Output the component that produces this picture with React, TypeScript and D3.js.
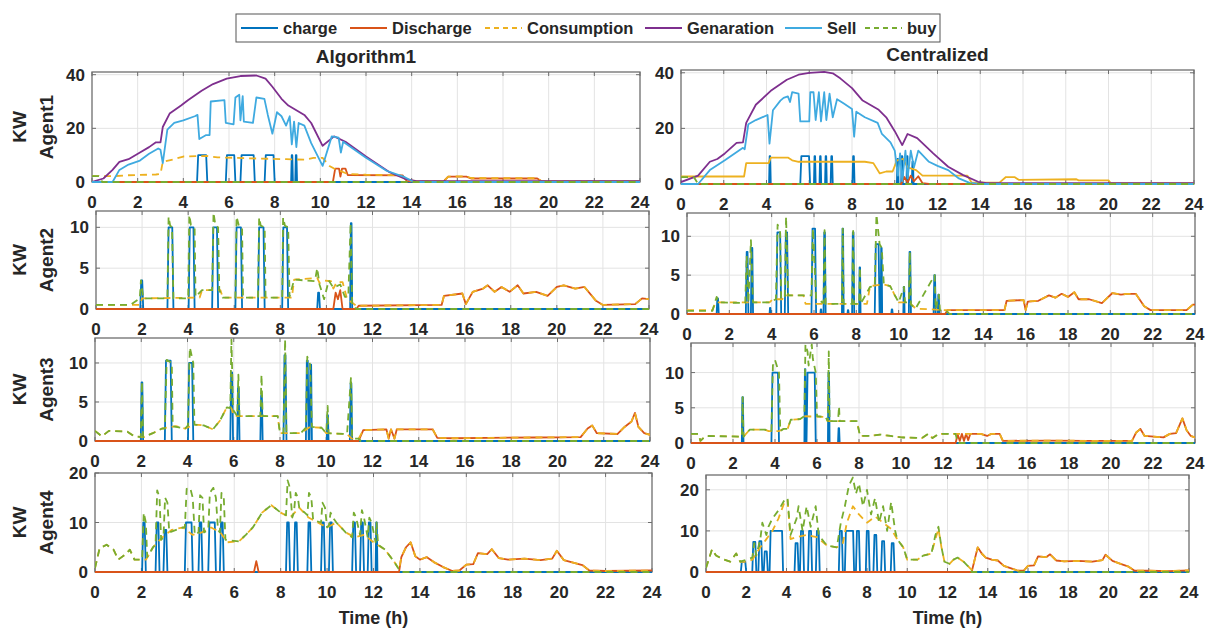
import React from "react";
import * as d3 from "d3";

type Pt = [number, number];
type Pulse = [number, number, number]; // [start h, end h, height kW]

// ---------- labels / ticks ----------
const HOUR_TICKS = [0, 2, 4, 6, 8, 10, 12, 14, 16, 18, 20, 22, 24];
const LEGEND_LABELS = ["charge", "Discharge", "Consumption", "Genaration", "Sell", "buy"];
const COLUMN_TITLES = ["Algorithm1", "Centralized"];
const AGENT_LABELS = ["Agent1", "Agent2", "Agent3", "Agent4"];
const Y_LABEL = "KW";
const X_LABEL = "Time (h)";
const TICKS_40 = [0, 20, 40];
const TICKS_10 = [0, 5, 10];
const TICKS_20 = [0, 10, 20];

// ---------- Algorithm1 / Agent1 ----------
const l1Generation: Pt[] = [[0,0],[0.5,1.3],[0.9,4.5],[1.2,7.5],[1.6,8.5],[2.1,11],[2.5,13],[2.8,14.8],[3.0,14.8],[3.1,20.5],[3.4,25.5],[3.9,28.5],[4.2,30.5],[4.8,34],[5.3,36.5],[5.9,38.5],[6.5,39.5],[7.2,39.7],[7.6,38.5],[7.9,35.5],[8.3,31],[8.6,28.5],[9.3,25],[9.6,22],[10.1,13.5],[10.6,17],[11.1,15],[12.0,9.5],[13.0,3.8],[13.7,1.2],[14.2,0.3],[24,0.3]];
const l1Sell: Pt[] = [[0,0],[0.9,0],[1.2,4.5],[1.6,6.5],[2.1,8],[2.5,10.5],[2.9,12.5],[3.0,12],[3.1,7],[3.3,19.5],[3.6,22],[4.0,23],[4.5,24.5],[4.62,25],[4.7,16],[5.0,17.5],[5.15,17.5],[5.2,30],[5.8,30.5],[5.86,22],[6.2,21.5],[6.28,31.5],[6.45,32.5],[6.5,23],[6.6,32],[6.65,22.5],[7.05,22],[7.2,31.5],[7.55,31],[7.7,25],[7.9,18],[8.1,26],[8.3,24.5],[8.5,21],[8.66,24.5],[8.75,14],[8.85,22.5],[8.95,13],[9.05,22],[9.3,21],[9.6,14.5],[10.1,6],[10.5,17],[10.8,16.5],[10.9,11],[11.0,15],[11.5,12],[12,9],[12.9,4.2],[13.7,1.8],[14.1,0],[24,0]];
const l1Charge: Pulse[] = [[4.6,5.05,10],[5.86,6.28,10],[6.5,7.13,10],[7.56,8.0,10],[8.72,8.8,10],[8.9,8.98,10]];
const l1Discharge: Pt[] = [[0,0],[10.55,0],[10.65,5],[10.82,5],[10.88,2],[10.95,5],[11.1,5],[11.2,2.6],[13.6,2.5],[13.8,0.2],[15.4,0.2],[15.6,2],[16.4,2],[16.6,1.3],[19.5,1.3],[19.7,0.2],[24,0.2]];
const l1Consumption: Pt[] = [[0,2.2],[1.0,2.2],[1.5,2.5],[2.8,2.8],[3.0,3],[3.1,7.5],[3.6,8.5],[4.0,9.5],[5.0,9.7],[5.5,9.2],[7.0,8.8],[8.5,8.5],[9.3,8.3],[9.7,9],[10.1,9],[10.4,6],[10.6,5],[11.2,3],[12,2.7],[13.5,2.5],[13.8,0.5],[15.4,0.3],[15.6,2],[16.4,2.1],[16.6,1.5],[19.5,1.4],[19.7,0.3],[24,0.3]];
const l1Buy: Pt[] = [[0,2.2],[0.3,2.2],[0.45,0],[24,0]];

// ---------- Centralized / Agent1 ----------
const r1Generation: Pt[] = [[0,0.7],[0.8,3],[1.35,8],[1.7,9],[2.05,11],[2.6,14.8],[2.9,15],[3.05,22],[3.5,28.5],[4.2,33.5],[4.95,37.5],[5.5,39.3],[6.0,40],[6.7,40.3],[7.1,39.8],[7.45,38],[8.0,34.5],[8.5,30],[9.25,26.7],[9.6,24],[10.0,19],[10.35,14],[10.6,18],[11.05,16.5],[11.8,11],[12.5,6.2],[13.2,3.2],[13.9,0.8],[14.3,0.3],[24,0.3]];
const r1Sell: Pt[] = [[0,0],[0.8,0],[1.35,5],[2.05,8.5],[2.9,13],[2.98,12.5],[3.15,21.5],[3.5,23],[4.05,24.8],[4.14,14.5],[4.3,26.5],[4.65,30],[4.8,31],[5.0,31.5],[5.1,29.5],[5.2,33],[5.5,32.5],[5.58,22.5],[6.0,22.5],[6.05,33],[6.2,33],[6.3,23],[6.45,33],[6.55,22.5],[6.7,33],[6.8,23],[6.95,32.5],[7.1,24],[7.3,30.5],[7.6,29],[8.0,27],[8.1,17],[8.2,26],[8.6,24],[9.2,22],[9.4,18],[9.8,15],[10.0,12],[10.15,3],[10.25,11],[10.35,1],[10.5,12],[10.6,2],[10.75,12],[10.9,6],[11.1,12],[11.6,8],[12,6.5],[12.5,5],[13,2],[13.5,0.4],[14,0],[24,0]];
const r1Charge: Pulse[] = [[4.12,4.2,10],[5.58,6.04,10],[6.22,6.3,10],[6.48,6.56,10],[6.74,6.82,10],[7.0,7.1,10],[8.02,8.12,10],[10.1,10.18,9],[10.3,10.38,10],[10.55,10.62,10],[10.8,10.88,8]];
const r1Discharge: Pt[] = [[0,0],[10.3,0],[10.45,2.5],[10.6,0.5],[10.75,3],[10.9,1],[11.1,2.8],[11.3,0.3],[11.6,0],[24,0]];
const r1Consumption: Pt[] = [[0,2.7],[2.95,2.7],[3.05,7.5],[4.1,7.5],[4.2,9.5],[5.0,9.5],[5.2,8.5],[5.5,8],[8.6,8],[9.0,7.5],[9.3,3.8],[9.6,4.5],[9.9,4.5],[10.1,8.5],[10.4,9],[10.6,6],[11.0,5],[11.3,3],[13.4,3],[13.6,0.5],[14.9,0.5],[15.2,2.5],[15.6,2.5],[15.8,1.5],[18.5,1.7],[18.6,1.3],[20.0,1.3],[20.1,0.3],[24,0.3]];
const r1Buy: Pt[] = [[0,2.5],[0.6,2.5],[0.8,0],[24,0]];

// ---------- Algorithm1 / Agent2 ----------
const l2Charge: Pulse[] = [[1.92,2.05,3.5],[3.1,3.36,10],[4.02,4.28,10],[5.04,5.3,10],[6.05,6.34,10],[7.03,7.32,10],[8.08,8.34,10],[9.6,9.72,2],[11.03,11.12,10.5]];
const l2ConsumptionHead: Pt[] = [[0,0.5],[1.9,0.5],[2.0,1.3],[4.5,1.4],[4.6,2.3],[5.4,2.3],[5.5,1.4],[8.5,1.4],[8.6,3.6],[9.6,3.8],[9.7,3.2],[9.9,3.5],[10.2,3.4],[10.3,2.5],[10.45,3.3],[10.7,3.3],[10.9,1.2],[11.3,0.4]];
const l2Tail: Pt[] = [[11.4,0.4],[15.0,0.5],[15.1,1.6],[15.9,1.9],[16.05,0.6],[16.35,2.1],[16.8,2.5],[17.0,2.9],[17.3,2.1],[17.6,2.7],[17.95,2.1],[18.3,2.9],[18.55,1.9],[19.1,2.1],[19.6,1.6],[20.0,2.7],[20.3,2.9],[20.8,2.5],[21.2,2.7],[21.7,1.0],[22.0,0.5],[23.4,0.6],[23.7,1.3],[24,1.2]];
const l2DischargeHead: Pt[] = [[0,0],[10.3,0],[10.4,2],[10.5,1.2],[10.6,2.3],[10.7,0],[11.3,0]];
const l2Buy: Pt[] = [[0,0.5],[1.5,0.5],[1.9,1.3],[1.95,3.5],[2.05,1.3],[3.1,1.3],[3.15,11.3],[3.22,10.2],[3.3,10],[3.36,1.3],[4.0,1.3],[4.05,11.5],[4.12,10.3],[4.28,10],[4.32,1.5],[4.6,2.3],[5.04,2.3],[5.1,11.8],[5.18,10.3],[5.3,10],[5.35,2.3],[5.5,1.4],[6.05,1.4],[6.1,11.3],[6.2,10.2],[6.34,10],[6.38,1.4],[7.03,1.4],[7.08,11.2],[7.15,10.2],[7.32,10],[7.36,1.4],[8.08,1.4],[8.12,11.2],[8.2,10.2],[8.34,10],[8.4,1.5],[8.6,3.6],[9.5,3.4],[9.6,5],[9.7,3],[9.9,1.2],[10.1,3.5],[10.3,2.6],[10.6,3],[10.8,1.5],[10.95,1.5],[11.05,10.5],[11.12,0.4],[11.3,0],[24,0]];

// ---------- Centralized / Agent2 ----------
const r2Charge: Pulse[] = [[1.4,1.5,2],[2.78,2.9,8],[3.02,3.12,8.5],[3.9,3.96,0.8],[4.22,4.45,10.5],[4.62,4.78,10.5],[5.88,6.1,11],[6.3,6.36,0.6],[6.45,6.55,10.5],[7.32,7.4,11],[7.58,7.64,0.5],[7.8,7.9,10.5],[8.13,8.2,6],[8.87,9.1,9],[9.15,9.22,8.5],[9.65,9.72,0.6],[10.22,10.28,3.5],[10.48,10.58,8],[11.65,11.75,5],[11.85,11.92,2.5]];
const r2ConsumptionHead: Pt[] = [[0,0.5],[1.2,0.5],[1.35,1.5],[3.9,1.5],[4.05,1.9],[4.5,1.9],[4.6,2.4],[5.5,2.4],[5.6,1.3],[8.5,1.3],[8.65,3.6],[9.3,3.8],[9.6,3.6],[9.8,2.5],[10.0,1.5],[10.5,1.5],[10.8,0.7],[12.2,0.5]];
const r2Tail: Pt[] = [[12.3,0.5],[15.0,0.5],[15.1,1.7],[15.9,1.8],[16.0,0.5],[16.1,1.6],[16.6,1.7],[17.1,2.4],[17.4,2.1],[17.7,2.6],[18.0,2.2],[18.3,2.8],[18.5,1.9],[19.0,1.9],[19.6,1.4],[20.1,2.7],[20.5,2.5],[20.8,2.6],[21.2,2.6],[21.6,1.0],[21.9,0.5],[23.6,0.5],[23.9,1.2],[24,1.2]];
const r2DischargeHead: Pt[] = [[0,0],[12.2,0]];
const r2Buy: Pt[] = [[0,0.4],[1.2,0.4],[1.4,2.2],[1.5,1.5],[2.75,1.4],[2.82,7.5],[2.9,1.5],[3.02,9.5],[3.12,1.5],[3.9,1.5],[4.2,1.9],[4.28,11.5],[4.4,10.5],[4.45,1.9],[4.62,2.3],[4.68,12.5],[4.78,2.4],[5.88,2.4],[5.95,11],[6.1,2.0],[6.45,1.4],[6.5,10.8],[6.55,1.3],[7.32,1.3],[7.36,11],[7.4,1.3],[7.8,1.3],[7.85,10.7],[7.9,1.3],[8.13,1.3],[8.17,6],[8.2,1.3],[8.65,3.5],[8.87,3.6],[8.95,12.8],[9.1,9],[9.2,8.5],[9.3,3.8],[9.6,3.6],[9.8,2.5],[10.0,1.5],[10.25,3.5],[10.3,1.5],[10.48,1.5],[10.53,8],[10.58,1.2],[10.8,0.7],[11.7,5],[11.75,0.6],[11.9,2.5],[11.95,0.5],[12.3,0.3],[12.4,0],[24,0]];

// ---------- Algorithm1 / Agent3 ----------
const l3Charge: Pulse[] = [[1.98,2.08,7.5],[3.02,3.32,10.3],[4.02,4.25,10],[5.85,5.97,8.8],[6.15,6.25,6.8],[7.15,7.25,5.8],[8.15,8.28,11],[9.12,9.24,10.3],[9.28,9.38,9.8],[10.02,10.1,3.3],[11.02,11.12,7.4]];
const l3ConsumptionHead: Pt[] = [[0,1.3],[0.3,0.6],[0.6,1.3],[1.4,1.2],[1.7,0.6],[2.1,0.5],[2.5,1],[2.9,1.6],[3.5,1.9],[3.9,1.6],[4.3,2.1],[4.7,2.0],[5.1,1.5],[5.4,2.6],[5.7,4.3],[5.9,4.2],[6.0,3.2],[7.9,3.2],[8.0,1.0],[8.9,1.0],[9.3,1.8],[9.8,1.7],[10.0,1.0],[10.9,0.9],[11.1,0.3],[11.4,0.3]];
const l3Tail: Pt[] = [[11.6,1.4],[12.6,1.5],[12.7,0.3],[12.8,1.5],[12.95,0.3],[13.05,1.5],[14.6,1.5],[14.8,0.4],[15.5,0.35],[17,0.4],[19,0.45],[21.0,0.5],[21.3,1.6],[21.5,2.0],[21.7,1.0],[22.6,0.9],[22.9,1.8],[23.2,2.5],[23.35,3.6],[23.5,1.8],[23.75,1.0],[24,0.8]];
const l3DischargeHead: Pt[] = [[0,0],[11.4,0]];
const l3Buy: Pt[] = [[0,1.3],[0.3,0.6],[0.6,1.3],[1.4,1.2],[1.7,0.6],[1.98,0.5],[2.03,7.6],[2.08,0.5],[2.5,1],[2.9,1.6],[3.02,1.6],[3.1,10.4],[3.32,10],[3.36,1.9],[3.9,1.6],[4.02,2],[4.1,12],[4.25,10],[4.3,2.1],[4.7,2.0],[5.1,1.5],[5.4,2.6],[5.7,4.3],[5.85,4.2],[5.9,13],[5.97,4],[6.15,3.2],[6.2,8.5],[6.25,3.2],[7.15,3.2],[7.2,8.5],[7.25,3.2],[7.9,3.2],[8.0,1.0],[8.15,1],[8.22,13],[8.28,1],[8.9,1.0],[9.12,1.7],[9.18,10.8],[9.3,9.8],[9.38,1.8],[9.8,1.7],[10.0,1.0],[10.06,4.5],[10.1,1.0],[10.9,0.9],[11.07,8.2],[11.12,0.3],[11.4,0.3],[11.5,0],[24,0]];

// ---------- Centralized / Agent3 ----------
const r3Charge: Pulse[] = [[2.42,2.5,6.5],[3.83,4.19,10],[5.4,5.47,10.5],[5.5,5.94,10],[6.52,6.6,10],[7.0,7.08,2.1]];
const r3ConsumptionHead: Pt[] = [[0,1.3],[0.35,1.3],[0.45,0.3],[0.7,1.0],[2.5,0.9],[2.8,1.9],[3.5,1.9],[3.7,1.7],[4.2,1.7],[4.4,2.0],[4.6,2.0],[4.75,3.3],[5.2,3.4],[5.35,3.8],[6.4,3.7],[6.5,3.1],[7.9,3.1],[8.05,1.0],[8.5,1.0],[9.0,1.2],[9.5,1.0],[10.0,0.8],[11.0,0.7],[11.3,1.3],[11.5,0.7],[11.8,1.3],[13.5,1.3]];
const r3DischargeHead: Pt[] = [[0,0],[12.6,0],[12.7,1.2],[12.8,0.3],[12.9,1.3],[13.0,0.3],[13.1,1.3],[13.2,0.4],[13.3,1.3],[13.5,1.3]];
const r3Tail: Pt[] = [[13.8,1.3],[14.1,1.0],[14.3,1.3],[14.7,1.3],[14.85,0.3],[17,0.35],[19,0.3],[21.0,0.3],[21.2,1.5],[21.4,2.0],[21.6,1.0],[22.5,0.8],[22.8,1.3],[23.1,1.4],[23.4,3.5],[23.6,1.8],[23.8,1.0],[24,0.8]];
const r3Buy: Pt[] = [[0,1.3],[0.35,1.3],[0.45,0.3],[0.7,1.0],[2.42,0.9],[2.46,6.5],[2.5,0.9],[2.8,1.9],[3.5,1.9],[3.83,1.7],[3.9,11],[4.0,11.8],[4.19,10],[4.25,1.7],[4.4,2.0],[4.6,2.0],[4.75,3.3],[5.2,3.4],[5.4,3.8],[5.45,14],[5.55,13],[5.6,11],[5.75,14],[5.8,12],[5.94,10],[6.0,3.8],[6.4,3.7],[6.52,3.1],[6.56,13],[6.6,3.1],[7.0,3.1],[7.05,5.2],[7.08,3.1],[7.9,3.1],[8.05,1.0],[8.5,1.0],[9.0,1.2],[9.5,1.0],[10.0,0.8],[11.0,0.7],[11.3,1.3],[11.5,0.7],[11.8,1.3],[12.6,1.3],[12.7,0],[24,0]];

// ---------- Algorithm1 / Agent4 ----------
const l4Charge: Pulse[] = [[2.03,2.19,10],[2.61,2.78,10],[2.95,3.12,8.5],[3.87,4.21,10],[4.46,4.63,10],[4.88,5.21,10],[5.38,5.55,10],[8.23,8.4,10],[8.57,8.74,10],[9.15,9.32,10],[9.74,9.91,10],[10.08,10.25,10],[11.08,11.25,10],[11.42,11.59,10],[11.75,11.92,10],[12.09,12.17,10]];
const l4ConsumptionHead: Pt[] = [[0,0.8],[0.2,4.8],[0.5,5.5],[0.8,4.5],[1.0,2.5],[1.3,3.5],[1.5,4.5],[1.7,2.5],[2.2,2.5],[2.5,5],[2.9,7],[3.3,8.5],[3.8,9],[4.2,7.5],[4.6,8],[5.0,9],[5.4,8],[5.7,6],[6.2,6.2],[6.5,7.5],[6.8,9],[7.2,12],[7.6,13.5],[8.0,12],[8.4,11],[8.8,13],[9.2,11],[9.6,10],[10.0,9],[10.4,10],[10.8,8],[11.2,7],[11.6,7.5],[12.0,6],[12.5,4.5],[12.9,2],[13.1,0.6]];
const l4Tail: Pt[] = [[13.2,3],[13.4,5],[13.6,6],[13.8,3.2],[14.0,2.5],[14.3,3],[14.6,2],[15.0,1],[15.4,0.2],[15.7,0.3],[16.0,1.5],[16.3,1.6],[16.5,3.8],[16.9,3.6],[17.1,4.6],[17.4,2.8],[17.8,2.5],[18.5,2.7],[19.2,2.4],[19.7,2.7],[19.9,4.3],[20.2,2.4],[20.6,1.9],[21.0,1.4],[21.3,0.3],[22,0.2],[24,0.3]];
const l4DischargeHead: Pt[] = [[0,0],[6.85,0],[6.95,2.2],[7.05,0],[13.1,0]];
const l4Buy: Pt[] = [[0,0.8],[0.2,4.8],[0.5,5.5],[0.8,4.5],[1.0,2.5],[1.3,3.5],[1.5,4.5],[1.7,2.5],[2.03,2.5],[2.1,12],[2.19,10],[2.25,3],[2.5,5],[2.61,5.5],[2.68,16.5],[2.78,15],[2.85,6.5],[2.95,7],[3.02,15],[3.12,14],[3.2,8],[3.8,9],[3.87,9],[3.95,16.8],[4.1,17],[4.21,15],[4.3,7.5],[4.46,8],[4.53,15.5],[4.63,15],[4.7,8],[4.88,8.5],[4.95,16],[5.1,17],[5.21,15],[5.3,8.5],[5.38,8],[5.45,16],[5.55,15],[5.62,6.5],[6.2,6.2],[6.5,7.5],[6.8,9],[7.2,12],[7.6,13.5],[8.0,12],[8.23,11.5],[8.3,18.5],[8.4,17],[8.5,11],[8.57,12],[8.65,16],[8.74,15],[8.8,13],[9.15,11.5],[9.22,16],[9.32,15],[9.4,10.5],[9.74,10],[9.8,14],[9.91,13],[10.0,9],[10.08,9.5],[10.15,12],[10.25,11],[10.4,10],[10.8,8],[11.08,7],[11.15,12],[11.25,11],[11.42,7.5],[11.5,12.5],[11.59,11],[11.75,7],[11.82,11],[11.92,10],[12.09,6],[12.13,10],[12.2,5.5],[12.5,4.5],[12.9,2],[13.1,0.5],[13.2,0],[24,0]];

// ---------- Centralized / Agent4 ----------
const r4Charge: Pulse[] = [[1.73,2.0,2.5],[2.3,2.5,7.3],[2.6,2.8,7.5],[2.87,3.07,5],[3.16,3.83,10],[4.4,4.6,7],[4.67,4.87,10],[5.07,5.27,10],[5.46,5.65,10],[6.6,6.8,10],[6.9,7.36,10],[7.45,7.65,10],[7.94,8.13,10],[8.32,8.51,9],[8.7,8.9,7.5],[9.18,9.37,7]];
const r4ConsumptionHead: Pt[] = [[0,1],[0.3,5.5],[0.5,4],[0.9,3],[1.2,2.5],[1.5,4.5],[1.7,2.5],[2.0,2.5],[2.3,3],[2.7,6],[3.0,8],[3.3,10],[3.6,13],[3.9,17],[4.05,17.5],[4.2,8],[4.5,8.5],[5.0,9],[5.5,8.5],[6.0,6.5],[6.5,6],[6.8,7],[7.0,12],[7.3,16],[7.6,14],[8.0,12],[8.4,13.5],[8.8,12],[9.2,10.5],[9.5,8],[9.8,6],[10.0,3],[10.5,3],[10.8,4],[11.2,4.5],[11.4,8],[11.55,10.5],[11.7,6],[11.85,2.5],[12.1,2],[12.3,3],[12.5,3.5],[12.8,2.5],[13.0,1.5],[13.2,0.5]];
const r4Tail: Pt[] = [[13.3,2],[13.5,6],[13.7,4.5],[13.9,3.5],[14.2,3],[14.5,2.8],[14.8,1.5],[15.2,0.8],[15.5,0.3],[15.8,0.4],[16.0,1.5],[16.3,1.6],[16.5,3.8],[16.9,3.6],[17.1,4.3],[17.4,2.8],[17.8,2.6],[18.5,2.7],[19.2,2.5],[19.7,2.9],[19.85,4.2],[20.2,2.7],[20.6,2.0],[21.0,1.3],[21.3,0.3],[22,0.3],[23,0.2],[24,0.4]];
const r4DischargeHead: Pt[] = [[0,0],[13.2,0]];
const r4Buy: Pt[] = [[0,1],[0.3,5.5],[0.5,4],[0.9,3],[1.2,2.5],[1.5,4.5],[1.7,2.5],[2.0,3],[2.3,3.5],[2.4,7],[2.5,4],[2.7,8],[2.8,12],[3.0,9],[3.1,11],[3.3,13],[3.6,15],[3.9,17.5],[4.05,18],[4.2,9],[4.5,13],[4.6,16],[4.8,10],[5.0,16],[5.2,11],[5.45,16],[5.6,9],[6.0,6.5],[6.5,6],[6.7,12],[6.9,16],[7.1,21],[7.3,23],[7.45,19],[7.6,21.5],[7.8,16],[8.0,20],[8.2,14],[8.4,18],[8.6,12],[8.8,16],[9.0,10],[9.2,17],[9.4,10],[9.5,8],[9.8,6],[10.0,3],[10.5,3],[10.8,4],[11.2,4.5],[11.4,9],[11.55,11],[11.7,6],[11.85,2.5],[12.1,2],[12.3,3],[12.5,3.5],[12.8,2.5],[13.0,1.5],[13.2,0],[24,0]];

// ---------- styling ----------
const COLORS = {
  charge: "#0072BD",
  discharge: "#D95319",
  consumption: "#EDB120",
  generation: "#7E2F8E",
  sell: "#3FAAE0",
  buy: "#77AC30",
};
const LEGEND_STYLE = [
  { color: COLORS.charge, dash: "" },
  { color: COLORS.discharge, dash: "" },
  { color: COLORS.consumption, dash: "5,4" },
  { color: COLORS.generation, dash: "" },
  { color: COLORS.sell, dash: "" },
  { color: COLORS.buy, dash: "5,4" },
];
const LEGEND_X = [241, 350, 485, 645, 785, 865];
const FONT = "'Liberation Sans', Arial, Helvetica, sans-serif";
const DASH = "7,5";

// pulse (on/off) description -> polyline vertices for d3.line
function pulseVertices(p: Pulse[]): Pt[] {
  const out: Pt[] = [[0, 0]];
  for (const [a, b, h] of p) {
    const r = Math.min(0.05, (b - a) / 3);
    out.push([a, 0], [a + r, h], [b - r, h], [b, 0]);
  }
  out.push([24, 0]);
  return out;
}

interface SeriesDef { pts: Pt[]; color: string; dash?: string; }
interface PanelDef {
  id: string; x0: number; x1: number; top: number; bottom: number; ymax: number; ticks: number[];
  series: SeriesDef[]; agent?: string; title?: string; xLabel?: boolean;
}

function agent1Series(charge: Pulse[], dis: Pt[], cons: Pt[], gen: Pt[], sell: Pt[], buy: Pt[], consDash: string): SeriesDef[] {
  return [
    { pts: pulseVertices(charge), color: COLORS.charge },
    { pts: dis, color: COLORS.discharge },
    { pts: cons, color: COLORS.consumption, dash: consDash },
    { pts: gen, color: COLORS.generation },
    { pts: sell, color: COLORS.sell },
    { pts: buy, color: COLORS.buy, dash: DASH },
  ];
}
function agentSeries(charge: Pulse[], disHead: Pt[], consHead: Pt[], tail: Pt[], buy: Pt[]): SeriesDef[] {
  return [
    { pts: pulseVertices(charge), color: COLORS.charge },
    { pts: disHead.concat(tail), color: COLORS.discharge },
    { pts: consHead.concat(tail), color: COLORS.consumption, dash: DASH },
    { pts: buy, color: COLORS.buy, dash: DASH },
  ];
}

const PANELS: PanelDef[] = [
  { id: "l1", x0: 92, x1: 640, top: 72, bottom: 182, ymax: 41, ticks: TICKS_40, agent: AGENT_LABELS[0], title: COLUMN_TITLES[0],
    series: agent1Series(l1Charge, l1Discharge, l1Consumption, l1Generation, l1Sell, l1Buy, DASH) },
  { id: "r1", x0: 681, x1: 1194, top: 70, bottom: 184, ymax: 41, ticks: TICKS_40, title: COLUMN_TITLES[1],
    series: agent1Series(r1Charge, r1Discharge, r1Consumption, r1Generation, r1Sell, r1Buy, "") },
  { id: "l2", x0: 96, x1: 649, top: 211, bottom: 309, ymax: 12, ticks: TICKS_10, agent: AGENT_LABELS[1],
    series: agentSeries(l2Charge, l2DischargeHead, l2ConsumptionHead, l2Tail, l2Buy) },
  { id: "r2", x0: 687, x1: 1195, top: 213, bottom: 314, ymax: 13, ticks: TICKS_10,
    series: agentSeries(r2Charge, r2DischargeHead, r2ConsumptionHead, r2Tail, r2Buy) },
  { id: "l3", x0: 95, x1: 650, top: 338, bottom: 441, ymax: 13.2, ticks: TICKS_10, agent: AGENT_LABELS[2],
    series: agentSeries(l3Charge, l3DischargeHead, l3ConsumptionHead, l3Tail, l3Buy) },
  { id: "r3", x0: 691, x1: 1195, top: 343, bottom: 443, ymax: 14.2, ticks: TICKS_10,
    series: agentSeries(r3Charge, r3DischargeHead, r3ConsumptionHead, r3Tail, r3Buy) },
  { id: "l4", x0: 95, x1: 652, top: 473, bottom: 572, ymax: 20, ticks: TICKS_20, agent: AGENT_LABELS[3], xLabel: true,
    series: agentSeries(l4Charge, l4DischargeHead, l4ConsumptionHead, l4Tail, l4Buy) },
  { id: "r4", x0: 706, x1: 1189, top: 475, bottom: 572, ymax: 23.6, ticks: TICKS_20, xLabel: true,
    series: agentSeries(r4Charge, r4DischargeHead, r4ConsumptionHead, r4Tail, r4Buy) },
];

function Panel({ p }: { p: PanelDef }) {
  const x = d3.scaleLinear().domain([0, 24]).range([p.x0, p.x1]);
  const y = d3.scaleLinear().domain([0, p.ymax]).range([p.bottom, p.top]);
  const line = d3.line<Pt>().x((d) => x(d[0])).y((d) => y(d[1]));
  const cx = (p.x0 + p.x1) / 2;
  const cy = (p.top + p.bottom) / 2;
  const tl = 4;
  return (
    <g>
      <defs>
        <clipPath id={`clip-${p.id}`}>
          <rect x={p.x0} y={p.top} width={p.x1 - p.x0} height={p.bottom - p.top + 2} />
        </clipPath>
      </defs>
      <rect x={p.x0} y={p.top} width={p.x1 - p.x0} height={p.bottom - p.top} fill="#fff" />
      {HOUR_TICKS.slice(1, -1).map((t) => (
        <line key={`gx${t}`} x1={x(t)} x2={x(t)} y1={p.top} y2={p.bottom} stroke="#e3e3e3" strokeWidth={1} />
      ))}
      {p.ticks.filter((v) => v > 0 && v < p.ymax).map((v) => (
        <line key={`gy${v}`} x1={p.x0} x2={p.x1} y1={y(v)} y2={y(v)} stroke="#e3e3e3" strokeWidth={1} />
      ))}
      <rect x={p.x0} y={p.top} width={p.x1 - p.x0} height={p.bottom - p.top} fill="none" stroke="#6e6e6e" strokeWidth={1.3} />
      {HOUR_TICKS.map((t) => (
        <g key={`tx${t}`}>
          <line x1={x(t)} x2={x(t)} y1={p.bottom} y2={p.bottom - tl} stroke="#6e6e6e" />
          <line x1={x(t)} x2={x(t)} y1={p.top} y2={p.top + tl} stroke="#6e6e6e" />
          <text x={x(t)} y={p.bottom + 26} textAnchor="middle" fontFamily={FONT} fontWeight="bold" fontSize={17} fill="#262626">{t}</text>
        </g>
      ))}
      {p.ticks.map((v) => (
        <g key={`ty${v}`}>
          <line x1={p.x0} x2={p.x0 + tl} y1={y(v)} y2={y(v)} stroke="#6e6e6e" />
          <line x1={p.x1} x2={p.x1 - tl} y1={y(v)} y2={y(v)} stroke="#6e6e6e" />
          <text x={p.x0 - 7} y={y(v) + 6} textAnchor="end" fontFamily={FONT} fontWeight="bold" fontSize={17} fill="#262626">{v}</text>
        </g>
      ))}
      <g clipPath={`url(#clip-${p.id})`}>
        {p.series.map((s, i) => (
          <path key={i} d={line(s.pts) || ""} fill="none" stroke={s.color} strokeWidth={1.8}
            strokeDasharray={s.dash || undefined} strokeLinejoin="round" />
        ))}
      </g>
      {p.agent && (
        <g fontFamily={FONT} fontWeight="bold" fontSize={19} fill="#262626" textAnchor="middle">
          <text transform={`translate(26,${cy}) rotate(-90)`}>{Y_LABEL}</text>
          <text transform={`translate(53,${cy}) rotate(-90)`}>{p.agent}</text>
        </g>
      )}
      {p.title && (
        <text x={cx} y={p.top - 9} textAnchor="middle" fontFamily={FONT} fontWeight="bold" fontSize={19} fill="#262626">{p.title}</text>
      )}
      {p.xLabel && (
        <text x={cx} y={p.bottom + 52} textAnchor="middle" fontFamily={FONT} fontWeight="bold" fontSize={18} fill="#262626">{X_LABEL}</text>
      )}
    </g>
  );
}

export default function App() {
  return (
    <svg width={1212} height={628} style={{ position: "absolute", left: 0, top: 0, background: "#fff" }}>
      <rect x={0} y={0} width={1212} height={628} fill="#fff" />
      {PANELS.map((p) => <Panel key={p.id} p={p} />)}
      <g>
        <rect x={236} y={14} width={704} height={28} fill="#fff" stroke="#555" strokeWidth={1} />
        {LEGEND_LABELS.map((lab, i) => (
          <g key={lab}>
            <line x1={LEGEND_X[i]} x2={LEGEND_X[i] + 37} y1={28} y2={28} stroke={LEGEND_STYLE[i].color} strokeWidth={1.8}
              strokeDasharray={LEGEND_STYLE[i].dash || undefined} />
            <text x={LEGEND_X[i] + 42} y={34} fontFamily={FONT} fontWeight="bold" fontSize={16.5} fill="#262626">{lab}</text>
          </g>
        ))}
      </g>
    </svg>
  );
}
